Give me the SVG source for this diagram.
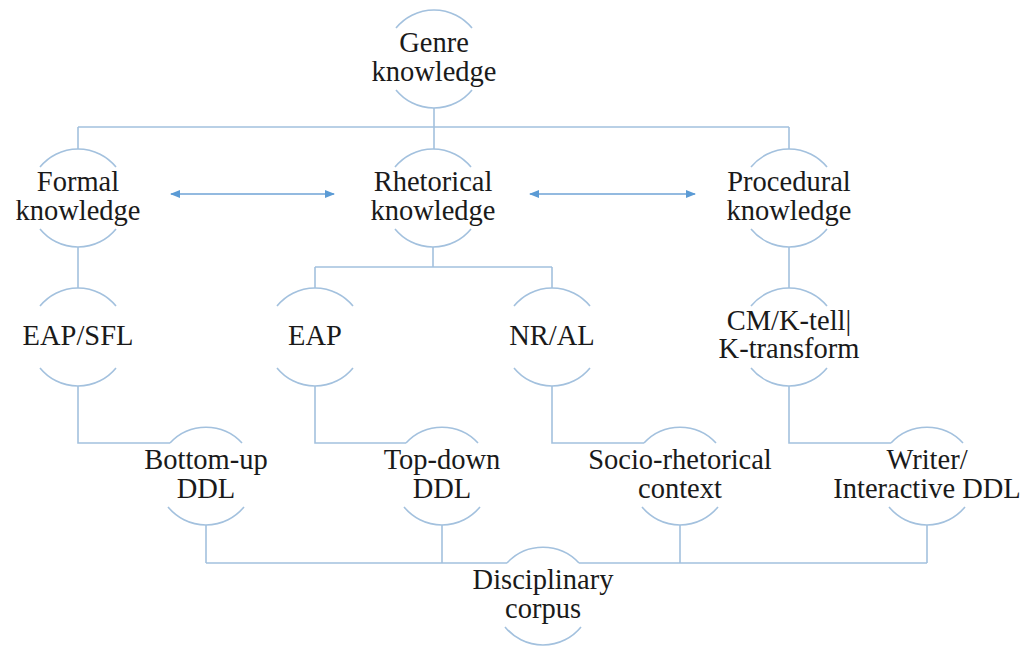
<svg xmlns="http://www.w3.org/2000/svg" width="1024" height="646" viewBox="0 0 1024 646">
<defs>
<style>
.arc{fill:none;stroke:#a3c1de;stroke-width:1.6}
.ln{fill:none;stroke:#a3c1de;stroke-width:1.6}
.ar{fill:none;stroke:#6fa3d6;stroke-width:1.4}
text{font-family:'Liberation Serif','Times New Roman',serif;font-size:28.5px;fill:#1a1a1a;text-anchor:middle}
</style>
<marker id="ah" markerWidth="10" markerHeight="8" refX="9" refY="4" orient="auto-start-reverse" markerUnits="userSpaceOnUse">
<path d="M0,0 L10,4 L0,8 Z" fill="#5b9bd5"/>
</marker>
</defs>
<rect width="1024" height="646" fill="#ffffff"/>
<g id="connectors">
<path class="ln" d="M434,108 V149 M78,127 H789 M78,127 V149 M789,127 V149"/>
<path class="ln" d="M78,247 V288"/>
<path class="ln" d="M433,247 V267 M315,267 H552 M315,267 V288 M552,267 V288"/>
<path class="ln" d="M789,247 V288"/>
<path class="ln" d="M78,386 V443 H170"/>
<path class="ln" d="M315,386 V443 H406"/>
<path class="ln" d="M552,386 V443 H644"/>
<path class="ln" d="M789,386 V443 H891"/>
<path class="ln" d="M206,525 V563 M442,525 V563 M680,525 V563 M927,525 V563 M206,563 H507 M579,563 H927"/>
<line class="ar" x1="171" y1="194" x2="334" y2="194" marker-start="url(#ah)" marker-end="url(#ah)"/>
<line class="ar" x1="530" y1="194" x2="695" y2="194" marker-start="url(#ah)" marker-end="url(#ah)"/>
</g>
<g id="genre">
<path class="arc" d="M396,28.1 A49,49 0 0 1 472,28.1 M396,89.9 A49,49 0 0 0 472,89.9"/>
<text x="434" y="52">Genre</text><text x="434" y="81">knowledge</text>
</g>
<g id="formal">
<path class="arc" d="M40,167.1 A49,49 0 0 1 116,167.1 M40,228.9 A49,49 0 0 0 116,228.9"/>
<text x="78" y="191">Formal</text><text x="78" y="220">knowledge</text>
</g>
<g id="rhetorical">
<path class="arc" d="M395,167.1 A49,49 0 0 1 471,167.1 M395,228.9 A49,49 0 0 0 471,228.9"/>
<text x="433" y="191">Rhetorical</text><text x="433" y="220">knowledge</text>
</g>
<g id="procedural">
<path class="arc" d="M751,167.1 A49,49 0 0 1 827,167.1 M751,228.9 A49,49 0 0 0 827,228.9"/>
<text x="789" y="191">Procedural</text><text x="789" y="220">knowledge</text>
</g>
<g id="eapsfl">
<path class="arc" d="M40,306.1 A49,49 0 0 1 116,306.1 M40,367.9 A49,49 0 0 0 116,367.9"/>
<text x="78" y="345">EAP/SFL</text>
</g>
<g id="eap">
<path class="arc" d="M277,306.1 A49,49 0 0 1 353,306.1 M277,367.9 A49,49 0 0 0 353,367.9"/>
<text x="315" y="345">EAP</text>
</g>
<g id="nral">
<path class="arc" d="M514,306.1 A49,49 0 0 1 590,306.1 M514,367.9 A49,49 0 0 0 590,367.9"/>
<text x="552" y="345">NR/AL</text>
</g>
<g id="cm">
<path class="arc" d="M751,306.1 A49,49 0 0 1 827,306.1 M751,367.9 A49,49 0 0 0 827,367.9"/>
<text x="789" y="330">CM/K-tell|</text><text x="789" y="358">K-transform</text>
</g>
<g id="bottomup">
<path class="arc" d="M170,443 A49,49 0 0 1 242,443 M168,506.9 A49,49 0 0 0 244,506.9"/>
<text x="206" y="469">Bottom-up</text><text x="206" y="498">DDL</text>
</g>
<g id="topdown">
<path class="arc" d="M406,443 A49,49 0 0 1 478,443 M404,506.9 A49,49 0 0 0 480,506.9"/>
<text x="442" y="469">Top-down</text><text x="442" y="498">DDL</text>
</g>
<g id="socio">
<path class="arc" d="M644,443 A49,49 0 0 1 716,443 M642,506.9 A49,49 0 0 0 718,506.9"/>
<text x="680" y="469">Socio-rhetorical</text><text x="680" y="498">context</text>
</g>
<g id="writer">
<path class="arc" d="M891,443 A49,49 0 0 1 963,443 M889,506.9 A49,49 0 0 0 965,506.9"/>
<text x="927" y="469">Writer/</text><text x="927" y="498">Interactive DDL</text>
</g>
<g id="corpus">
<path class="arc" d="M507,563 A49,49 0 0 1 579,563 M505,626.9 A49,49 0 0 0 581,626.9"/>
<text x="543" y="589">Disciplinary</text><text x="543" y="618">corpus</text>
</g>
</svg>
